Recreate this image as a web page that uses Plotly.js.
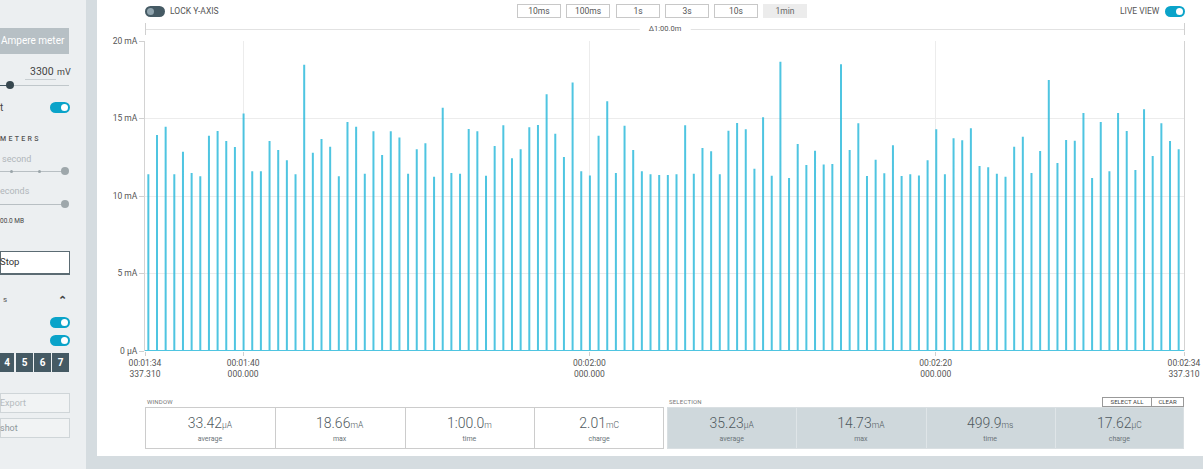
<!DOCTYPE html>
<html>
<head>
<meta charset="utf-8">
<script src="https://cdn.plot.ly/plotly-3.0.1.min.js"></script>
<style>
  html, body { margin:0; padding:0; width:1203px; height:469px; overflow:hidden; background:#ffffff; font-family:Roboto, "Noto Sans", sans-serif; }
  .abs { position:absolute; }
  .t { position:absolute; white-space:nowrap; line-height:1; transform:translateY(-50%); }
  .tc { position:absolute; white-space:nowrap; line-height:1; transform:translate(-50%,-50%); }
  #plot { position:absolute; left:0; top:0; width:1203px; height:469px; z-index:1; }
  .ov { z-index:2; }
</style>
</head>
<body>
<div id="bg"></div>
<div id="plot"></div>
<div id="ui"></div>
<script>
// ---------------- DATA ----------------
// spike times (seconds of recording), one spike every ~0.5 s
const spikeTimes = [
  94.53,95.03,95.53,96.03,96.53,97.03,97.53,98.03,98.53,99.03,
  99.53,100.03,100.53,101.03,101.53,102.03,102.53,103.03,103.53,104.03,
  104.53,105.03,105.53,106.03,106.53,107.03,107.53,108.03,108.53,109.03,
  109.53,110.03,110.53,111.03,111.53,112.03,112.53,113.03,113.53,114.03,
  114.53,115.03,115.53,116.03,116.53,117.03,117.53,118.03,118.53,119.03,
  119.53,120.03,120.53,121.03,121.53,122.03,122.53,123.03,123.53,124.03,
  124.53,125.03,125.53,126.03,126.53,127.03,127.53,128.03,128.53,129.03,
  129.53,130.03,130.53,131.03,131.53,132.03,132.53,133.03,133.53,134.03,
  134.53,135.03,135.53,136.03,136.53,137.03,137.53,138.03,138.53,139.03,
  139.53,140.03,140.53,141.03,141.53,142.03,142.53,143.03,143.53,144.03,
  144.53,145.03,145.53,146.03,146.53,147.03,147.53,148.03,148.53,149.03,
  149.53,150.03,150.53,151.03,151.53,152.03,152.53,153.03,153.53,154.03
];
// spike peak currents (mA)
const spikePeaks = [
  11.40,13.94,14.47,11.40,12.86,11.48,11.27,13.89,14.19,13.55,
  13.16,15.33,11.59,11.59,13.55,12.97,12.30,11.40,18.47,12.79,
  13.68,13.18,11.27,14.77,14.47,11.44,14.17,12.65,14.17,13.78,
  11.44,13.01,13.40,11.25,15.70,11.48,11.44,14.32,14.17,11.31,
  13.23,14.56,12.43,13.01,14.43,14.58,16.56,14.02,12.52,17.33,
  11.59,11.33,13.89,16.11,11.48,14.54,12.97,11.59,11.40,11.35,
  11.35,11.40,14.56,11.44,13.10,12.88,11.40,14.21,14.71,14.30,
  11.76,15.08,11.31,18.66,11.16,13.35,12.00,12.92,12.04,12.06,
  18.50,12.97,14.69,11.29,12.34,11.46,13.27,11.29,11.40,11.33,
  12.30,14.30,11.40,13.72,13.59,14.37,11.94,11.85,11.44,11.25,
  13.18,13.83,11.48,12.90,17.48,12.13,13.61,13.57,15.35,11.16,
  14.77,11.59,15.35,14.19,11.68,15.59,12.58,14.69,13.55,13.01
];
const windowStart = 94.33731;
const windowEnd = 154.33731;
const xTickVals = [94.33731, 100, 120, 140, 154.33731];
const xTickText = ['00:01:34<br>337.310','00:01:40<br>000.000','00:02:00<br>000.000','00:02:20<br>000.000','00:02:34<br>337.310'];
const yTickVals = [0, 5, 10, 15, 20];
const yTickText = ['0 µA','5 mA','10 mA','15 mA','20 mA'];
const statLabels = ['average','max','time','charge'];
const windowValues = ['33.42','18.66','1:00.0','2.01'];
const windowUnits = ['µA','mA','m','mC'];
const selectionValues = ['35.23','14.73','499.9','17.62'];
const selectionUnits = ['µA','mA','ms','µC'];
const zoomButtons = ['10ms','100ms','1s','3s','10s','1min'];
const deltaLabel = 'Δ1:00.0m';

// ---------------- PLOT ----------------
const xs = [windowStart], ys = [0];
for (let i = 0; i < spikeTimes.length; i++) {
  xs.push(spikeTimes[i], spikeTimes[i], spikeTimes[i]);
  ys.push(0, spikePeaks[i], 0);
}
xs.push(windowEnd); ys.push(0);

Plotly.newPlot('plot', [{
  x: xs, y: ys, type: 'scatter', mode: 'lines',
  line: { color: 'rgba(40,184,219,0.82)', width: 2 },
  hoverinfo: 'skip', showlegend: false
}], {
  width: 1203, height: 469,
  margin: { l: 145, r: 19, t: 41, b: 118, pad: 0 },
  paper_bgcolor: 'rgba(0,0,0,0)', plot_bgcolor: 'rgba(0,0,0,0)',
  font: { family: 'Roboto, sans-serif', size: 8.5, color: '#555' },
  xaxis: {
    type: 'linear', range: [windowStart, windowEnd],
    tickmode: 'array', tickvals: xTickVals, ticktext: xTickText,
    showgrid: true, gridcolor: '#ececec', gridwidth: 1,
    zeroline: false, showline: false,
    ticks: 'outside', ticklen: 4, tickcolor: '#d0d0d0',
    tickfont: { family: 'Roboto, sans-serif', size: 8.5, color: '#555' }
  },
  yaxis: {
    range: [0, 20], tickmode: 'array', tickvals: yTickVals, ticktext: yTickText,
    showgrid: true, gridcolor: '#ececec', gridwidth: 1,
    zeroline: false, showline: true, linecolor: '#d3d3d3', mirror: true,
    ticks: 'outside', ticklen: 5, tickcolor: '#d0d0d0',
    tickfont: { family: 'Roboto, sans-serif', size: 8.5, color: '#555' }
  }
}, { staticPlot: true, displayModeBar: false });

// ---------------- PAGE CHROME ----------------
const bg = document.getElementById('bg');
const ui = document.getElementById('ui');
function box(parent, x, y, w, h, style) {
  const d = document.createElement('div');
  d.className = 'abs';
  d.style.left = x + 'px'; d.style.top = y + 'px';
  d.style.width = w + 'px'; d.style.height = h + 'px';
  d.style.boxSizing = 'border-box';
  Object.assign(d.style, style || {});
  parent.appendChild(d); return d;
}
function txt(x, y, s, size, color, extra, centered) {
  const d = document.createElement('div');
  d.className = (centered ? 'tc' : 't') + ' ov';
  d.style.left = x + 'px'; d.style.top = y + 'px';
  d.style.fontSize = size + 'px'; d.style.color = color;
  Object.assign(d.style, extra || {});
  d.innerHTML = s;
  ui.appendChild(d); return d;
}
function toggle(x, y, on) {
  box(ui, x, y, 20, 11, { borderRadius: '6px', background: on ? '#0aa3c9' : '#455a64', zIndex: 2 });
  box(ui, on ? x + 11 : x + 1.5, y + 2, 7, 7, { borderRadius: '50%', background: on ? '#ffffff' : '#90a4ae', zIndex: 2 });
}

// backgrounds
box(bg, 0, 0, 86, 469, { background: '#eceff1' });
box(bg, 86, 0, 11, 469, { background: '#d5dce0' });
box(bg, 97, 456, 1106, 13, { background: '#d5dce0' });

// sidebar
box(ui, 0, 28, 69, 26, { background: '#b7c0c5', zIndex: 2 });
txt(1, 41, 'Ampere meter', 10, '#ffffff');
txt(30, 72, '3300', 10.5, '#444');
box(ui, 25, 79, 31, 1, { background: '#c8ced1', zIndex: 2 });
txt(57, 72, 'mV', 9, '#444');
box(ui, 0, 84.5, 69, 1.5, { background: '#c0c7cb', zIndex: 2 });
box(ui, 0, 84.5, 10, 1.5, { background: '#455a64', zIndex: 2 });
box(ui, 5.5, 81, 8, 8, { borderRadius: '50%', background: '#37474f', zIndex: 2 });
txt(0, 108, 't', 10, '#444');
toggle(50, 102, true);
txt(0, 139, 'METERS', 7, '#555', { letterSpacing: '2.3px', fontWeight: '500' });
txt(2, 159, 'second', 9, '#b0b6ba');
box(ui, 0, 170.5, 65, 1.5, { background: '#b8bfc3', zIndex: 2 });
box(ui, 9.5, 169.5, 3.5, 3.5, { borderRadius: '50%', background: '#9aa4a9', zIndex: 2 });
box(ui, 37.5, 169.5, 3.5, 3.5, { borderRadius: '50%', background: '#9aa4a9', zIndex: 2 });
box(ui, 61, 167, 8, 8, { borderRadius: '50%', background: '#9ea7ab', zIndex: 2 });
txt(0, 191, 'econds', 9, '#b0b6ba');
box(ui, 0, 203.5, 65, 1.5, { background: '#b8bfc3', zIndex: 2 });
box(ui, 61, 200, 8, 8, { borderRadius: '50%', background: '#9ea7ab', zIndex: 2 });
txt(0, 221, '00.0 MB', 6.5, '#444');
box(ui, 0, 251, 70, 24, { background: '#ffffff', border: '1px solid #5b6b73', borderBottomWidth: '2px', zIndex: 2 });
txt(0, 262, 'Stop', 9.5, '#333');
txt(3, 300, 's', 8, '#555');
txt(58, 300, '&#8963;', 11, '#444', { fontWeight: '700' });
toggle(50, 317, true);
toggle(50, 335, true);
['4','5','6','7'].forEach((s, i) => {
  const x0 = [0, 16, 34, 52][i];
  const w = [14, 17, 17, 17][i];
  box(ui, x0, 353, w, 19, { background: '#455a64', zIndex: 2 });
  txt(x0 + w / 2, 362.5, s, 10, '#ffffff', { fontWeight: '700' }, true);
});
box(ui, 0, 393, 70, 20, { background: '#f1f3f4', border: '1px solid #cfd5d8', zIndex: 2 });
txt(0, 403, 'Export', 9, '#b5bbbe');
box(ui, 0, 418, 70, 20, { background: '#f1f3f4', border: '1px solid #cfd5d8', zIndex: 2 });
txt(0, 428, 'shot', 9, '#8f979b');

// top bar
toggle(145, 6, false);
txt(170, 11, 'LOCK Y-AXIS', 8.5, '#555');
const btnX = [517, 566, 616, 665, 714, 763];
zoomButtons.forEach((s, i) => {
  const last = i === zoomButtons.length - 1;
  box(ui, btnX[i], 4, 44, 14, { background: last ? '#ececec' : '#ffffff', border: last ? '1px solid #ececec' : '1px solid #c8c8c8', zIndex: 2 });
  txt(btnX[i] + 22, 11, s, 8.5, last ? '#666' : '#555', {}, true);
});
txt(1120, 11, 'LIVE VIEW', 8.5, '#555');
toggle(1165, 6, true);

// delta bracket
box(ui, 145, 28.5, 1039, 1, { background: '#e2e2e2', zIndex: 2 });
box(ui, 145, 23, 1, 12, { background: '#d0d0d0', zIndex: 2 });
box(ui, 1183.5, 23, 1, 12, { background: '#d0d0d0', zIndex: 2 });
txt(665, 28.5, deltaLabel, 7.5, '#555', { background: '#ffffff', padding: '0 9px' }, true);

// stats
function statRow(x0, w, values, units, filled) {
  box(ui, x0, 407, w, 42, filled ? { background: '#cfd8dc', border: '1px solid #d9dfe2', zIndex: 2 } : { background: '#ffffff', border: '1px solid #cccccc', zIndex: 2 });
  const cw = w / 4;
  for (let i = 0; i < 4; i++) {
    if (i > 0) box(ui, x0 + cw * i, 408, 1, 40, { background: filled ? '#dfe5e8' : '#cccccc', zIndex: 2 });
    const cx = x0 + cw * (i + 0.5);
    txt(cx, 423, values[i] + '<span style="font-size:8.5px">' + units[i] + '</span>', 14, '#4f5a60', { fontWeight: '300' }, true);
    txt(cx, 438.5, statLabels[i], 7, '#6b7478', {}, true);
  }
}
txt(147, 402, 'WINDOW', 6, '#777', { letterSpacing: '0.2px' });
txt(669, 402, 'SELECTION', 6, '#777', { letterSpacing: '0.2px' });
statRow(145, 519, windowValues, windowUnits, false);
statRow(667, 517, selectionValues, selectionUnits, true);
box(ui, 1102, 397, 50, 10, { background: '#ffffff', border: '1px solid #999', zIndex: 2 });
txt(1127, 402, 'SELECT ALL', 6, '#444', {}, true);
box(ui, 1151, 397, 33, 10, { background: '#ffffff', border: '1px solid #999', zIndex: 2 });
txt(1167.5, 402, 'CLEAR', 6, '#444', {}, true);
</script>
</body>
</html>
